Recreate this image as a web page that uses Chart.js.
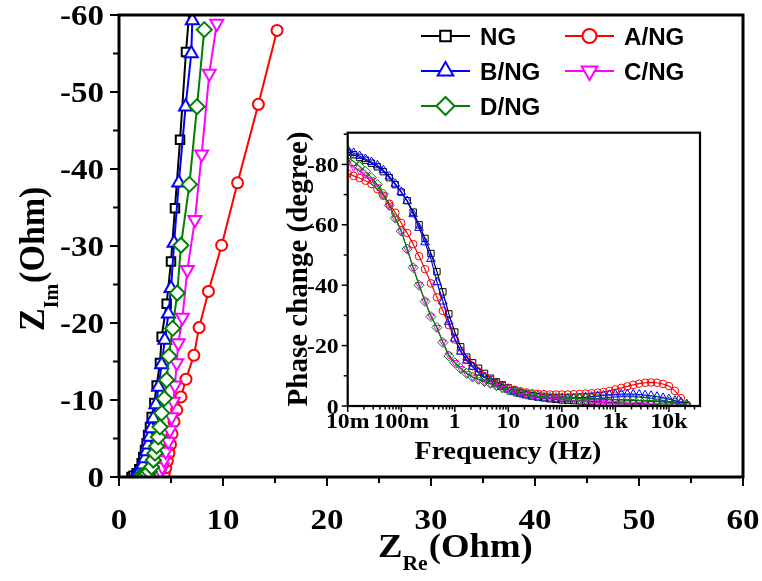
<!DOCTYPE html>
<html>
<head>
<meta charset="utf-8">
<script src="https://cdn.jsdelivr.net/npm/chart.js@4.4.0/dist/chart.umd.min.js"></script>
<style>
  body { margin: 0; background: #fff; }
  #wrap { position: relative; width: 762px; height: 581px; }
  #main { position: absolute; left: 0; top: 0; }
  #inset { position: absolute; left: 270px; top: 115px; }
</style>
</head>
<body>
<div id="wrap">
  <canvas id="main" width="762" height="581"></canvas>
  <canvas id="inset" width="450" height="360"></canvas>
</div>
<script>
// Nyquist data (Z_Re, Z_Im in Ohm)
const ngX = [1.2, 1.4, 1.7, 1.95, 2.18, 2.34, 2.5, 2.66, 2.8, 2.98, 3.14, 3.4, 3.62, 3.94, 4.1, 4.58, 5.0, 5.38, 5.87, 6.44, 7.1];
const ngY = [0, -0.17, -0.5, -1.0, -1.8, -2.6, -3.5, -4.4, -5.45, -6.5, -7.8, -9.6, -11.9, -14.8, -18.2, -22.5, -28.0, -34.9, -43.8, -55.2, -66];
const aX = [4.2, 4.35, 4.5, 4.65, 4.8, 4.95, 5.1, 5.29, 5.55, 5.96, 6.44, 7.2, 7.7, 8.6, 9.87, 11.4, 13.4, 15.2];
const aY = [0, -0.5, -1.2, -2.1, -3.1, -4.2, -5.6, -7.2, -8.7, -10.4, -12.7, -15.8, -19.4, -24.1, -30.1, -38.2, -48.4, -58.0];
const bX = [1.5, 1.8, 2.05, 2.3, 2.5, 2.65, 2.8, 2.95, 3.1, 3.3, 3.55, 3.8, 4.1, 4.4, 4.75, 5.0, 5.3, 5.75, 6.4, 6.95, 7.05];
const bY = [0, -0.4, -0.9, -1.6, -2.4, -3.3, -4.2, -5.2, -6.3, -7.6, -9.4, -11.7, -14.6, -17.8, -21.2, -24.5, -30.4, -38.2, -48.1, -55.0, -59.3];
const cX = [3.7, 3.85, 4.0, 4.16, 4.33, 4.5, 4.74, 4.9, 5.06, 5.22, 5.38, 5.55, 5.7, 6.1, 6.57, 7.3, 7.95, 8.68, 9.4];
const cY = [0, -0.3, -0.7, -1.3, -2.2, -3.3, -4.6, -6.1, -7.8, -9.8, -11.9, -14.8, -17.4, -20.7, -26.9, -33.4, -41.9, -52.4, -58.9];
const dX = [2.0, 2.2, 2.5, 2.7, 2.9, 3.14, 3.3, 3.46, 3.62, 3.78, 3.94, 4.1, 4.36, 4.58, 4.8, 5.16, 5.6, 5.96, 6.77, 7.5, 8.2];
const dY = [0, -0.1, -0.26, -0.45, -0.7, -1.3, -2.2, -3.1, -4.0, -5.2, -6.5, -8.3, -10.2, -12.6, -15.7, -19.3, -23.9, -30.1, -38.0, -48.1, -58.1];

// Bode phase data (inset)
const freq = [0.01, 0.0129, 0.0167, 0.0215, 0.0278, 0.0359, 0.0464, 0.0599, 0.0774,
  0.1, 0.129, 0.167, 0.215, 0.278, 0.359, 0.464, 0.599, 0.774,
  1, 1.29, 1.67, 2.15, 2.78, 3.59, 4.64, 5.99, 7.74,
  10, 12.9, 16.7, 21.5, 27.8, 35.9, 46.4, 59.9, 77.4,
  100, 129, 167, 215, 278, 359, 464, 599, 774,
  1000, 1290, 1670, 2150, 2780, 3590, 4640, 5990, 7740,
  10000, 12900, 16700, 21500];
const phaseNG = [-84.0, -83.2, -82.3, -81.4, -80.4, -79.2, -77.6, -75.6, -73.3,
  -70.8, -68.0, -64.2, -60.0, -55.5, -50.5, -44.5, -37.8, -30.5,
  -24.5, -19.6, -16.2, -14.3, -12.5, -10.8, -9.2, -8.0, -7.0,
  -6.0, -5.2, -4.5, -3.9, -3.4, -3.0, -2.7, -2.4, -2.2,
  -2.0, -1.9, -1.8, -1.7, -1.6, -1.5, -1.4, -1.3, -1.2,
  -1.1, -1.0, -0.9, -0.8, -0.7, -0.6, -0.5, -0.4, -0.3,
  -0.3, -0.2, -0.1, -0.1];
const phaseA = [-77.0, -76.2, -75.5, -74.6, -73.5, -71.8, -69.6, -67.0, -64.0,
  -60.6, -57.3, -53.6, -49.6, -45.3, -40.6, -36.0, -31.5, -26.8,
  -22.0, -18.3, -15.4, -13.2, -11.4, -9.9, -8.7, -7.6, -6.7,
  -6.0, -5.4, -4.9, -4.5, -4.2, -4.0, -3.9, -3.8, -3.8,
  -3.8, -3.8, -3.9, -4.0, -4.1, -4.2, -4.4, -4.6, -5.0,
  -5.5, -6.0, -6.5, -7.0, -7.4, -7.7, -7.8, -7.7, -7.3,
  -6.6, -5.0, -2.6, -0.4];
const phaseB = [-84.8, -83.8, -82.8, -81.8, -80.8, -79.7, -78.1, -76.0, -73.6,
  -70.9, -67.9, -63.5, -59.0, -54.2, -48.7, -41.0, -34.6, -27.9,
  -22.3, -18.0, -15.0, -13.0, -11.0, -9.4, -8.3, -7.2, -6.3,
  -5.4, -4.6, -4.0, -3.5, -3.1, -2.8, -2.6, -2.4, -2.3,
  -2.3, -2.4, -2.5, -2.7, -2.9, -3.1, -3.3, -3.5, -3.7,
  -3.8, -3.9, -3.9, -3.9, -3.8, -3.6, -3.4, -3.1, -2.7,
  -2.3, -1.8, -1.2, -0.6];
const phaseC = [-80.3, -79.0, -77.8, -76.5, -74.9, -72.6, -69.8, -66.3, -62.2,
  -57.9, -52.0, -45.9, -40.2, -34.8, -29.8, -26.0, -21.2, -16.9,
  -14.4, -12.4, -10.8, -9.6, -8.7, -8.0, -7.3, -6.5, -5.8,
  -5.1, -4.6, -4.1, -3.7, -3.4, -3.1, -2.9, -2.7, -2.5,
  -2.3, -2.1, -1.9, -1.7, -1.5, -1.3, -1.2, -1.1, -1.0,
  -0.9, -0.8, -0.7, -0.6, -0.5, -0.4, -0.3, -0.2, -0.2,
  -0.1, -0.1, 0, 0];
const phaseD = [-82.3, -81.0, -79.3, -77.7, -75.6, -73.3, -70.2, -66.4, -62.2,
  -57.9, -52.0, -45.8, -40.0, -34.6, -29.6, -26.0, -21.0, -16.6,
  -14.3, -12.4, -10.8, -9.6, -8.8, -8.1, -7.5, -6.7, -6.0,
  -5.3, -4.8, -4.3, -3.9, -3.6, -3.3, -3.1, -2.9, -2.8,
  -2.7, -2.6, -2.5, -2.4, -2.4, -2.3, -2.3, -2.2, -2.2,
  -2.1, -2.1, -2.0, -2.0, -1.9, -1.9, -1.8, -1.7, -1.5,
  -1.3, -1.0, -0.6, -0.2];

const names = ['NG', 'A/NG', 'B/NG', 'C/NG', 'D/NG'];
const colors = ['#000000', '#ff0000', '#0000ff', '#ff00ff', '#008000'];

// ticks
const xTicks = [0, 10, 20, 30, 40, 50, 60];
const yTicks = [0, -10, -20, -30, -40, -50, -60];
const insetXTicks = [0.01, 0.1, 1, 10, 100, 1000, 10000];
const insetXLabels = ['10m', '100m', '1', '10', '100', '1k', '10k'];
const insetYTicks = [0, -20, -40, -60, -80];

function txt(ctx, s, x, y, size, align, sx, rot, family) {
  ctx.save();
  ctx.translate(x, y);
  ctx.scale(sx, 1);
  if (rot) ctx.rotate(rot);
  ctx.font = 'bold ' + size + 'px ' + (family || '"Liberation Serif"');
  ctx.textAlign = align;
  ctx.textBaseline = 'alphabetic';
  ctx.fillStyle = '#000';
  ctx.fillText(s, 0, 0);
  ctx.restore();
}

// "Z" + subscript + "(Ohm)" drawn along the text direction
function zLabel(ctx, x, y, sub, rot) {
  ctx.save();
  ctx.translate(x, y);
  ctx.scale(1.08, 1);
  if (rot) ctx.rotate(rot);
  ctx.fillStyle = '#000';
  ctx.textBaseline = 'alphabetic';
  ctx.textAlign = 'left';
  ctx.font = 'bold 34px "Liberation Serif"';
  ctx.fillText('Z', 0, 0);
  let w = ctx.measureText('Z').width;
  ctx.font = 'bold 20px "Liberation Serif"';
  ctx.fillText(sub, w, 13);
  w += ctx.measureText(sub).width + 1;
  ctx.font = 'bold 34px "Liberation Serif"';
  ctx.fillText('(Ohm)', w, 0);
  ctx.restore();
}

function line(ctx, x1, y1, x2, y2) {
  ctx.beginPath();
  ctx.moveTo(x1, y1);
  ctx.lineTo(x2, y2);
  ctx.stroke();
}

const styles = [
  { pointStyle: 'rect', radius: 6, rotation: 0 },
  { pointStyle: 'circle', radius: 5.5, rotation: 0 },
  { pointStyle: 'triangle', radius: 7.5, rotation: 0 },
  { pointStyle: 'triangle', radius: 7.5, rotation: 180 },
  { pointStyle: 'rectRot', radius: 7.5, rotation: 0 }
];
const insetStyles = [
  { pointStyle: 'rect', radius: 4.5, rotation: 0 },
  { pointStyle: 'circle', radius: 3.8, rotation: 0 },
  { pointStyle: 'triangle', radius: 5, rotation: 0 },
  { pointStyle: 'triangle', radius: 4, rotation: 180 },
  { pointStyle: 'rectRot', radius: 5, rotation: 0 }
];

function pts(xs, ys) {
  return xs.map((v, i) => ({ x: v, y: ys[i] }));
}

const mainSeries = [pts(ngX, ngY), pts(aX, aY), pts(bX, bY), pts(cX, cY), pts(dX, dY)];
const phases = [phaseNG, phaseA, phaseB, phaseC, phaseD];

const mainDatasets = mainSeries.map((d, i) => ({
  label: names[i],
  data: d,
  showLine: true,
  borderColor: colors[i],
  borderWidth: 2,
  pointStyle: styles[i].pointStyle,
  pointRadius: styles[i].radius,
  pointRotation: styles[i].rotation,
  pointBorderColor: colors[i],
  pointBackgroundColor: '#ffffff',
  pointBorderWidth: 2,
  order: 5 - i
}));

const insetDatasets = phases.map((p, i) => ({
  label: names[i],
  data: freq.map((f, k) => ({ x: f, y: p[k] })),
  showLine: true,
  borderColor: colors[i],
  borderWidth: 1.2,
  pointStyle: insetStyles[i].pointStyle,
  pointRadius: insetStyles[i].radius,
  pointRotation: insetStyles[i].rotation,
  pointBorderColor: colors[i],
  pointBackgroundColor: 'rgba(255,255,255,0)',
  pointBorderWidth: 1,
  order: 5 - i
}));

const mainDeco = {
  id: 'mainDeco',
  afterDatasetsDraw(chart) {
    const ctx = chart.ctx;
    const a = chart.chartArea;
    const x = chart.scales.x, y = chart.scales.y;
    ctx.save();
    ctx.strokeStyle = '#000';
    ctx.lineWidth = 2;
    for (let v = 0; v <= 60; v += 5) {
      const px = x.getPixelForValue(v);
      line(ctx, px, a.bottom, px, a.bottom + (v % 10 ? 6 : 9));
      const py = y.getPixelForValue(-v);
      line(ctx, a.left, py, a.left - (v % 10 ? 6 : 9), py);
    }
    ctx.lineWidth = 3;
    ctx.strokeRect(a.left, a.top, a.right - a.left, a.bottom - a.top);
    ctx.restore();

    xTicks.forEach(v => txt(ctx, String(v), x.getPixelForValue(v), 529, 30, 'center', 1.1));
    yTicks.forEach(v => txt(ctx, String(v), 104, y.getPixelForValue(v) + 10, 30, 'right', 1.1));

    zLabel(ctx, 378, 557, 'Re', 0);
    zLabel(ctx, 44, 331, 'Im', -Math.PI / 2);

    // legend
    const rows = [[0, 1], [2, 3], [4]];
    const colX = [421, 565];
    const rowY = [36, 71, 106];
    rows.forEach((r, ri) => r.forEach((idx, ci) => {
      const lx = colX[ci], ly = rowY[ri];
      ctx.save();
      ctx.strokeStyle = colors[idx];
      ctx.lineWidth = 2;
      line(ctx, lx, ly, lx + 49, ly);
      ctx.fillStyle = '#fff';
      const st = styles[idx];
      Chart.helpers.drawPoint(ctx, {
        pointStyle: st.pointStyle,
        radius: st.radius + 1.5,
        rotation: st.rotation,
        borderWidth: 2
      }, lx + 24.5, ly);
      ctx.restore();
      txt(ctx, names[idx], lx + 59, ly + 9, 23, 'left', 1.05, 0, '"Liberation Sans"');
    }));
  }
};

new Chart(document.getElementById('main'), {
  type: 'scatter',
  data: { datasets: mainDatasets },
  options: {
    responsive: false,
    animation: false,
    layout: { padding: { top: 15, right: 19, left: 0, bottom: 0 } },
    plugins: { legend: { display: false }, tooltip: { enabled: false } },
    scales: {
      x: {
        type: 'linear', min: 0, max: 60,
        ticks: { display: false, stepSize: 10 },
        grid: { display: false }, border: { display: false },
        afterFit: s => { s.height = 104; }
      },
      y: {
        type: 'linear', min: -60, max: 0, reverse: true,
        ticks: { display: false, stepSize: 10 },
        grid: { display: false }, border: { display: false },
        afterFit: s => { s.width = 119; }
      }
    }
  },
  plugins: [mainDeco]
});

const insetDeco = {
  id: 'insetDeco',
  afterDatasetsDraw(chart) {
    const ctx = chart.ctx;
    const a = chart.chartArea;
    const x = chart.scales.x, y = chart.scales.y;
    ctx.save();
    ctx.strokeStyle = '#000';
    ctx.lineWidth = 1.5;
    for (let dec = 0.01; dec < 50000; dec *= 10) {
      for (let m = 1; m <= 9; m++) {
        const v = dec * m;
        if (v > x.max) break;
        const px = x.getPixelForValue(v);
        line(ctx, px, a.bottom, px, a.bottom + (m === 1 ? 6 : 3.5));
      }
    }
    for (let v = 0; v <= 90; v += 10) {
      const py = y.getPixelForValue(-v);
      line(ctx, a.left, py, a.left - (v % 20 ? 4 : 6), py);
    }
    ctx.lineWidth = 2.2;
    ctx.strokeRect(a.left, a.top, a.right - a.left, a.bottom - a.top);
    ctx.restore();

    insetXTicks.forEach((v, i) => txt(ctx, insetXLabels[i], x.getPixelForValue(v), a.bottom + 22, 22, 'center', 1.08));
    insetYTicks.forEach(v => txt(ctx, String(v), a.left - 9, y.getPixelForValue(v) + 7.5, 22, 'right', 1.08));
    txt(ctx, 'Frequency (Hz)', 238, 344, 25, 'center', 1.12);
    txt(ctx, 'Phase change (degree)', 37, 154, 29, 'center', 1.05, -Math.PI / 2);
  }
};

new Chart(document.getElementById('inset'), {
  type: 'scatter',
  data: { datasets: insetDatasets },
  options: {
    responsive: false,
    animation: false,
    layout: { padding: { top: 17.7, right: 20, left: 0, bottom: 0 } },
    plugins: { legend: { display: false }, tooltip: { enabled: false } },
    scales: {
      x: {
        type: 'logarithmic', min: 0.01, max: 38000,
        ticks: { display: false },
        grid: { display: false }, border: { display: false },
        afterFit: s => { s.height = 69; }
      },
      y: {
        type: 'linear', min: -90.5, max: 0, reverse: true,
        ticks: { display: false },
        grid: { display: false }, border: { display: false },
        afterFit: s => { s.width = 77.7; }
      }
    }
  },
  plugins: [insetDeco]
});
</script>
</body>
</html>
